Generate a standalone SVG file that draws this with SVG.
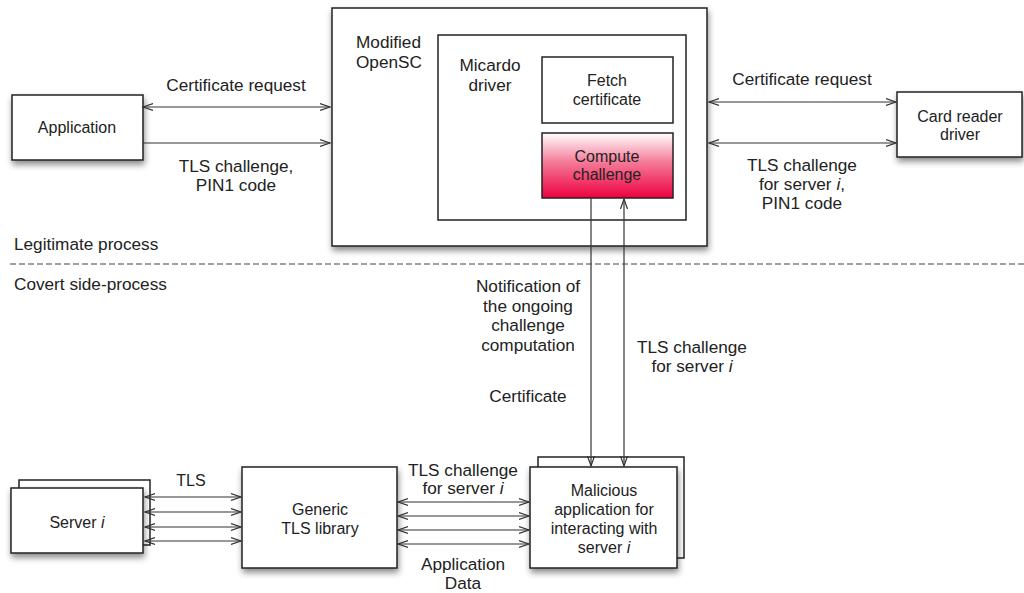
<svg xmlns="http://www.w3.org/2000/svg" width="1024" height="593" viewBox="0 0 1024 593">
<style>
text{font-family:"Liberation Sans",Arial,sans-serif;font-size:17.2px;fill:#222;text-anchor:middle}
.n{font-size:16px}
.l{text-anchor:start}
.box{fill:#fff;stroke:#222;stroke-width:1.5}
.sh{filter:url(#ds)}
.c{stroke:#333;stroke-width:1.2;fill:none}
</style>
<defs>
<filter id="ds" x="-20%" y="-20%" width="150%" height="150%">
<feDropShadow dx="1" dy="4" stdDeviation="3" flood-color="#000" flood-opacity="0.45"/>
</filter>
<linearGradient id="red" x1="0" y1="0" x2="0" y2="1">
<stop offset="0" stop-color="#ffffff"/>
<stop offset="0.45" stop-color="#f47a98"/>
<stop offset="1" stop-color="#ee0040"/>
</linearGradient>
<marker id="ae" markerWidth="12" markerHeight="10" refX="10" refY="5" orient="auto-start-reverse" markerUnits="userSpaceOnUse">
<path d="M0,1.5 L10,5 L0,8.5" fill="none" stroke="#333" stroke-width="1.2"/>
</marker>
</defs>

<g id="application"><rect class="box sh" x="12" y="95" width="131" height="65"/><text class="n" x="77" y="133">Application</text></g>

<g id="opensc"><rect class="box sh" x="332" y="8" width="375" height="238"/><text class="l" x="356" y="48">Modified</text><text class="l" x="356" y="68">OpenSC</text></g>

<g id="micardo"><rect class="box" x="438" y="35" width="248" height="185"/><text x="490" y="71">Micardo</text><text x="490" y="91">driver</text></g>

<g id="fetch"><rect class="box" x="542" y="57" width="131" height="66"/><text class="n" x="607" y="86">Fetch</text><text class="n" x="607" y="105">certificate</text></g>

<g id="compute"><rect x="542" y="133" width="131" height="65" fill="url(#red)" stroke="#222" stroke-width="1.5"/><text class="n" x="607" y="162">Compute</text><text class="n" x="607" y="180">challenge</text></g>

<g id="cardreader"><rect class="box sh" x="897" y="92" width="125" height="65"/><text class="n" x="960" y="122">Card reader</text><text class="n" x="960" y="140">driver</text></g>

<g id="server"><rect class="box" x="19" y="480" width="131" height="65"/><rect class="box sh" x="11" y="488" width="132" height="65"/><text class="n" x="77" y="528">Server <tspan font-style="italic">i</tspan></text></g>

<g id="tlslib"><rect class="box sh" x="242" y="467" width="155" height="101"/><text class="n" x="320" y="515">Generic</text><text class="n" x="320" y="534">TLS library</text></g>

<g id="malicious"><rect class="box" x="538" y="457" width="146" height="101"/><rect class="box sh" x="530" y="467" width="147" height="101"/><text class="n" x="604" y="496">Malicious</text><text class="n" x="604" y="515">application for</text><text class="n" x="604" y="534">interacting with</text><text class="n" x="604" y="553">server <tspan font-style="italic">i</tspan></text></g>

<g id="connectors">
<line class="c" x1="143" y1="107" x2="330" y2="107" marker-start="url(#ae)" marker-end="url(#ae)"/>
<line class="c" x1="143" y1="143" x2="330" y2="143" marker-end="url(#ae)"/>
<line class="c" x1="709" y1="102" x2="896" y2="102" marker-start="url(#ae)" marker-end="url(#ae)"/>
<line class="c" x1="709" y1="143" x2="896" y2="143" marker-start="url(#ae)" marker-end="url(#ae)"/>
<line class="c" x1="591" y1="198" x2="591" y2="466" marker-end="url(#ae)"/>
<line class="c" x1="624" y1="199" x2="624" y2="466" marker-start="url(#ae)" marker-end="url(#ae)"/>
<line class="c" x1="145" y1="497" x2="241" y2="497" marker-start="url(#ae)" marker-end="url(#ae)"/>
<line class="c" x1="145" y1="512" x2="241" y2="512" marker-start="url(#ae)" marker-end="url(#ae)"/>
<line class="c" x1="145" y1="527" x2="241" y2="527" marker-start="url(#ae)" marker-end="url(#ae)"/>
<line class="c" x1="145" y1="541" x2="241" y2="541" marker-start="url(#ae)" marker-end="url(#ae)"/>
<line class="c" x1="398" y1="502" x2="529" y2="502" marker-start="url(#ae)" marker-end="url(#ae)"/>
<line class="c" x1="398" y1="516" x2="529" y2="516" marker-start="url(#ae)" marker-end="url(#ae)"/>
<line class="c" x1="398" y1="530" x2="529" y2="530" marker-start="url(#ae)" marker-end="url(#ae)"/>
<line class="c" x1="398" y1="544" x2="529" y2="544" marker-start="url(#ae)" marker-end="url(#ae)"/>
<line x1="10" y1="264" x2="1024" y2="264" stroke="#444" stroke-width="1.2" stroke-dasharray="6,3"/>
</g>

<g id="labels">
<text x="236" y="91">Certificate request</text>
<text x="236" y="172">TLS challenge,</text>
<text x="236" y="191">PIN1 code</text>
<text x="802" y="85">Certificate request</text>
<text x="802" y="171">TLS challenge</text>
<text x="802" y="190">for server <tspan font-style="italic">i</tspan>,</text>
<text x="802" y="209">PIN1 code</text>
<text class="l" x="14" y="250">Legitimate process</text>
<text class="l" x="14" y="290">Covert side-process</text>
<text x="528" y="292">Notification of</text>
<text x="528" y="312">the ongoing</text>
<text x="528" y="331">challenge</text>
<text x="528" y="351">computation</text>
<text x="528" y="402">Certificate</text>
<text x="692" y="353">TLS challenge</text>
<text x="692" y="372">for server <tspan font-style="italic">i</tspan></text>
<text class="n" x="191" y="486">TLS</text>
<text x="463" y="476">TLS challenge</text>
<text x="463" y="494">for server <tspan font-style="italic">i</tspan></text>
<text x="463" y="570">Application</text>
<text x="463" y="589">Data</text>
</g>
</svg>
